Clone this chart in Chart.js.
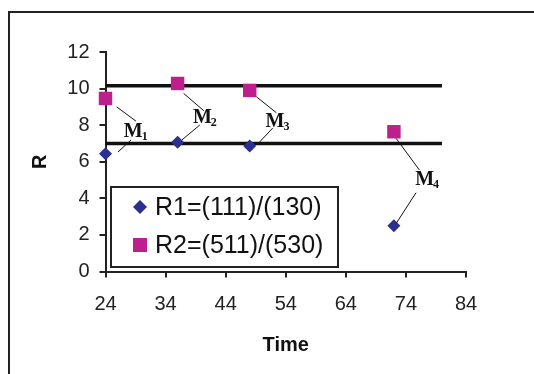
<!DOCTYPE html>
<html>
<head>
<meta charset="utf-8">
<title>R vs Time</title>
<script src="https://cdn.jsdelivr.net/npm/chart.js@4/dist/chart.umd.min.js"></script>
<style>
    html, body { margin: 0; padding: 0; background: #fff; }
    #wrap { width: 534px; height: 374px; position: relative; }
</style>
</head>
<body>
<div id="wrap"><canvas id="rChart" width="534" height="374"></canvas></div>
<script>
// Sampling times and measured ratios
const times = [24, 36, 48, 72];
const r1Values = [6.44, 7.06, 6.86, 2.5];
const r2Values = [9.46, 10.28, 9.9, 7.64];
const seriesNames = ['R1=(111)/(130)', 'R2=(511)/(530)'];

// Reference levels drawn as horizontal bars
const levels = [10.15, 7];
const levelSpan = [24, 80];

// Axis ticks
const xTicks = [24, 34, 44, 54, 64, 74, 84];
const yTicks = [0, 2, 4, 6, 8, 10, 12];

// Marker callouts M1..M4, in data units: text anchor and two leader segments
const callouts = [
    { sub: '1', text: [29.2, 7.62], up: [[25.86, 9.0], [29.07, 8.22]], down: [[26.08, 6.53], [28.24, 7.19]] },
    { sub: '2', text: [40.7, 8.39], up: [[36.99, 9.74], [40.36, 8.79]], down: [[36.71, 7.19], [39.70, 8.01]] },
    { sub: '3', text: [52.8, 8.17], up: [[49.12, 9.55], [52.44, 8.68]], down: [[49.33, 6.97], [51.83, 7.84]] },
    { sub: '4', text: [77.7, 5.0], up: [[72.37, 7.28], [76.24, 5.55]], down: [[72.42, 2.65], [75.69, 4.31]] }
];

const blue = '#2b2f8f';
const magenta = '#bd1f8d';
const ink = '#222';

function levelDataset(value) {
    return {
        type: 'line',
        data: levelSpan.map(x => ({ x: x, y: value })),
        borderColor: '#111',
        borderWidth: 3.5,
        pointRadius: 0,
        showLine: true,
        isLevel: true,
        order: 2
    };
}

// Outer frame, callouts and the boxed legend
const decorations = {
    id: 'decorations',
    beforeDraw(chart) {
        const ctx = chart.ctx;
        ctx.save();
        ctx.strokeStyle = ink;
        ctx.lineWidth = 2;
        ctx.beginPath();
        ctx.moveTo(9, 374);
        ctx.lineTo(9, 12);
        ctx.lineTo(534, 12);
        ctx.stroke();
        ctx.restore();
    },
    afterDraw(chart) {
        const ctx = chart.ctx;
        const xs = chart.scales.x, ys = chart.scales.y;
        const px = p => [xs.getPixelForValue(p[0]), ys.getPixelForValue(p[1])];

        ctx.save();
        ctx.strokeStyle = '#111';
        ctx.lineWidth = 1;
        callouts.forEach(c => {
            [c.up, c.down].forEach(seg => {
                const a = px(seg[0]), b = px(seg[1]);
                ctx.beginPath();
                ctx.moveTo(a[0], a[1]);
                ctx.lineTo(b[0], b[1]);
                ctx.stroke();
            });
            const t = px(c.text);
            ctx.fillStyle = '#111';
            ctx.textBaseline = 'middle';
            ctx.font = 'bold 20px "Liberation Serif", "Times New Roman", serif';
            const mw = ctx.measureText('M').width;
            const sw = 7;
            const x0 = t[0] - (mw + sw) / 2;
            ctx.textAlign = 'left';
            ctx.fillText('M', x0, t[1]);
            ctx.font = 'bold 12px "Liberation Serif", "Times New Roman", serif';
            ctx.fillText(c.sub, x0 + mw - 1, t[1] + 5);
        });

        // legend box
        const box = { left: 111, top: 187, width: 227, height: 80 };
        ctx.fillStyle = '#fff';
        ctx.fillRect(box.left, box.top, box.width, box.height);
        ctx.strokeStyle = ink;
        ctx.lineWidth = 2;
        ctx.strokeRect(box.left, box.top, box.width, box.height);

        const series = chart.data.datasets.filter(d => !d.isLevel);
        series.forEach((d, i) => {
            const cy = box.top + 20 + i * 38;
            const cx = 140;
            ctx.fillStyle = d.backgroundColor;
            ctx.beginPath();
            if (d.pointStyle === 'rectRot') {
                const r = 7;
                ctx.moveTo(cx, cy - r);
                ctx.lineTo(cx + r, cy);
                ctx.lineTo(cx, cy + r);
                ctx.lineTo(cx - r, cy);
                ctx.closePath();
            } else {
                ctx.rect(cx - 7, cy - 7, 14, 14);
            }
            ctx.fill();
            ctx.fillStyle = '#111';
            ctx.font = '25px "Liberation Sans", Arial, sans-serif';
            ctx.textAlign = 'left';
            ctx.textBaseline = 'middle';
            ctx.fillText(d.label, 155, cy + 1);
        });
        ctx.restore();
    }
};

new Chart(document.getElementById('rChart'), {
    type: 'scatter',
    data: {
        datasets: [
            {
                label: seriesNames[0],
                data: times.map((t, i) => ({ x: t, y: r1Values[i] })),
                pointStyle: 'rectRot',
                pointRadius: 6.5,
                pointHoverRadius: 6.5,
                backgroundColor: blue,
                borderColor: blue,
                borderWidth: 0,
                clip: false,
                order: 1
            },
            {
                label: seriesNames[1],
                data: times.map((t, i) => ({ x: t, y: r2Values[i] })),
                pointStyle: 'rect',
                pointRadius: 9.5,
                pointHoverRadius: 9.5,
                backgroundColor: magenta,
                borderColor: magenta,
                borderWidth: 0,
                clip: false,
                order: 1
            },
            levelDataset(levels[0]),
            levelDataset(levels[1])
        ]
    },
    options: {
        responsive: false,
        animation: false,
        events: [],
        layout: { padding: { left: 25, top: 52, right: 68, bottom: 12 } },
        plugins: {
            legend: { display: false },
            tooltip: { enabled: false }
        },
        scales: {
            x: {
                type: 'linear',
                min: xTicks[0],
                max: xTicks[xTicks.length - 1],
                afterBuildTicks: s => { s.ticks = xTicks.map(v => ({ value: v })); },
                afterFit: s => { s.height = 90.5; },
                border: { color: ink, width: 2 },
                grid: { drawOnChartArea: false, drawTicks: true, tickLength: 6, color: ink, lineWidth: 2 },
                ticks: { color: ink, padding: 15, font: { family: '"Liberation Sans", Arial, sans-serif', size: 20 } },
                title: {
                    display: true,
                    text: 'Time',
                    color: '#111',
                    padding: { top: 0, bottom: 5 },
                    font: { family: '"Liberation Sans", Arial, sans-serif', size: 20, weight: 'bold' }
                }
            },
            y: {
                type: 'linear',
                min: yTicks[0],
                max: yTicks[yTicks.length - 1],
                afterBuildTicks: s => { s.ticks = yTicks.map(v => ({ value: v })); },
                afterFit: s => { s.width = 80.5; },
                border: { color: ink, width: 2 },
                grid: { drawOnChartArea: false, drawTicks: true, tickLength: 6, color: ink, lineWidth: 2 },
                ticks: { color: ink, padding: 10, font: { family: '"Liberation Sans", Arial, sans-serif', size: 20 } },
                title: {
                    display: true,
                    text: 'R',
                    color: '#111',
                    padding: { top: 3, bottom: 0 },
                    font: { family: '"Liberation Sans", Arial, sans-serif', size: 20, weight: 'bold' }
                }
            }
        }
    },
    plugins: [decorations]
});
</script>
</body>
</html>
